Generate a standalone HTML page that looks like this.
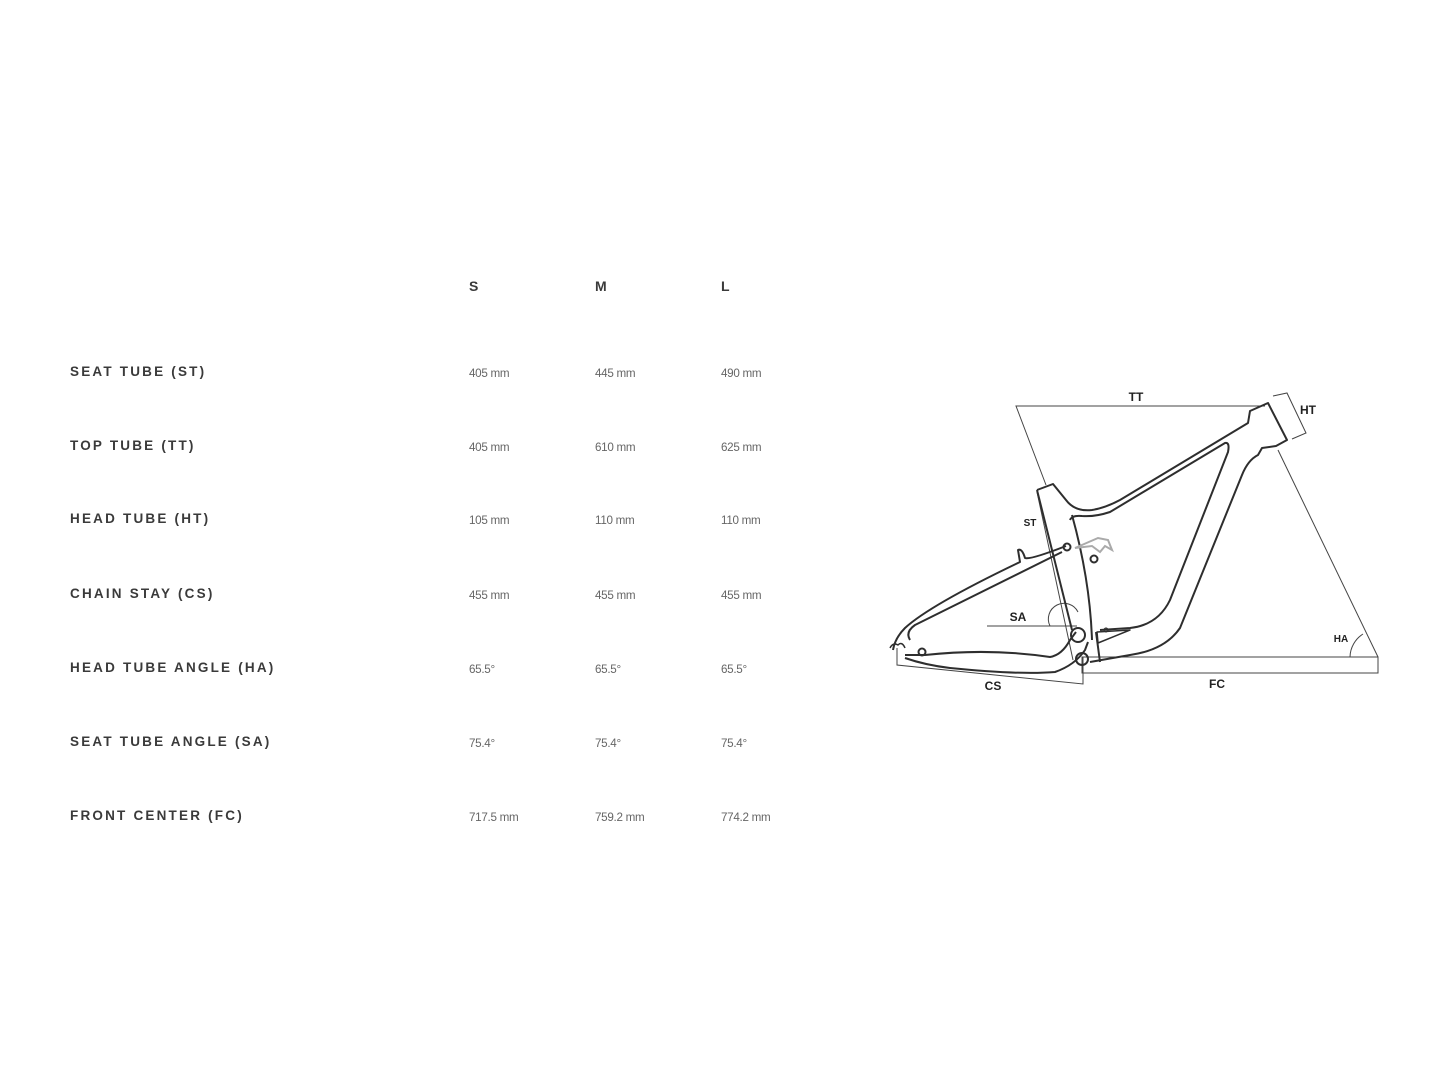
<!DOCTYPE html>
<html><head><meta charset="utf-8"><style>
body{margin:0;width:1440px;height:1080px;background:#fff;position:relative;overflow:hidden;font-family:"Liberation Sans",sans-serif}
.l{position:absolute;left:70px;font-weight:bold;font-size:13.5px;letter-spacing:2.2px;color:#3a3a3a;line-height:16px}
.h{position:absolute;font-weight:bold;font-size:14px;color:#3a3a3a;line-height:16px}
.v{position:absolute;font-size:12px;color:#666;line-height:14px;transform:scaleX(.97);transform-origin:left center;letter-spacing:-.3px}
svg{position:absolute;left:0;top:0}
</style></head><body>
<div class="h" style="left:469px;top:278px">S</div>
<div class="h" style="left:595px;top:278px">M</div>
<div class="h" style="left:721px;top:278px">L</div>

<div class="l" style="top:364px">SEAT TUBE (ST)</div>
<div class="l" style="top:438px">TOP TUBE (TT)</div>
<div class="l" style="top:511px">HEAD TUBE (HT)</div>
<div class="l" style="top:586px">CHAIN STAY (CS)</div>
<div class="l" style="top:660px">HEAD TUBE ANGLE (HA)</div>
<div class="l" style="top:734px">SEAT TUBE ANGLE (SA)</div>
<div class="l" style="top:808px">FRONT CENTER (FC)</div>

<div class="v" style="left:469px;top:366px">405 mm</div><div class="v" style="left:595px;top:366px">445 mm</div><div class="v" style="left:721px;top:366px">490 mm</div>
<div class="v" style="left:469px;top:440px">405 mm</div><div class="v" style="left:595px;top:440px">610 mm</div><div class="v" style="left:721px;top:440px">625 mm</div>
<div class="v" style="left:469px;top:513px">105 mm</div><div class="v" style="left:595px;top:513px">110 mm</div><div class="v" style="left:721px;top:513px">110 mm</div>
<div class="v" style="left:469px;top:588px">455 mm</div><div class="v" style="left:595px;top:588px">455 mm</div><div class="v" style="left:721px;top:588px">455 mm</div>
<div class="v" style="left:469px;top:662px">65.5°</div><div class="v" style="left:595px;top:662px">65.5°</div><div class="v" style="left:721px;top:662px">65.5°</div>
<div class="v" style="left:469px;top:736px">75.4°</div><div class="v" style="left:595px;top:736px">75.4°</div><div class="v" style="left:721px;top:736px">75.4°</div>
<div class="v" style="left:469px;top:810px">717.5 mm</div><div class="v" style="left:595px;top:810px">759.2 mm</div><div class="v" style="left:721px;top:810px">774.2 mm</div>

<svg width="1440" height="1080" viewBox="0 0 1440 1080">
<g fill="none" stroke="#444" stroke-width="1">
<polyline points="1265,406 1016,406 1046,485"/>
<line x1="1037" y1="492" x2="1073" y2="660"/>
<polyline points="1273,396 1287,393 1306,433 1292,439"/>
<line x1="1278" y1="450" x2="1378" y2="657"/>
<rect x="1082" y="657" width="296" height="16"/>
<polyline points="897,648 897,665 1083,684 1083,657"/>
<line x1="987" y1="626" x2="1077" y2="626"/>
<path d="M1050,626 A15,15 0 0 1 1078,612"/>
<path d="M1350,657 A28,28 0 0 1 1363,634"/>
</g>
<g fill="none" stroke="#2e2e2e" stroke-width="2" stroke-linejoin="round">
<path d="M1037,490 L1053,484 L1066,500 Q1075,512 1092,510 Q1105,508 1120,500 L1248,423 L1250,411 L1268,403 L1287,440 L1276,446 L1262,448 L1258,455 Q1248,460 1242,475 L1180,628 Q1165,650 1130,655 L1090,662"/>
<path d="M1070,520 Q1072,515 1082,516 Q1095,517 1110,512 L1225,443 Q1230,442 1228,452 L1170,600 Q1158,625 1130,628 L1100,630"/>
<path d="M1037,490 L1072,630"/>
<path d="M1072,515 Q1090,580 1092,640"/>
<path d="M893,650 Q895,638 905,628 Q930,605 1020,562 L1018,550 Q1022,548 1025,558 Q1030,560 1066,546"/>
<path d="M910,640 Q905,632 915,625 L1062,552"/>
<path d="M905,655 Q915,655 925,655 Q990,648 1050,657 Q1062,655 1070,640 L1076,632"/>
<path d="M905,658 Q925,665 950,668 Q1020,675 1055,672 Q1075,665 1085,650 L1088,642"/>
<path d="M1096,632 L1100,662"/>
<circle cx="1078" cy="635" r="7"/>
<circle cx="1082" cy="659" r="6"/>
<circle cx="922" cy="652" r="3.5"/>
<circle cx="1067" cy="547" r="3.5"/>
<circle cx="1094" cy="559" r="3.5"/>
<path d="M1097,632 L1130,630 L1098,643 Z" stroke-width="1.5"/>
<circle cx="1106" cy="630" r="2" stroke-width="1"/>
<path d="M890,648 Q893,642 898,645 Q902,641 905,648" stroke-width="1.5"/>
</g>
<path d="M1075,548 L1098,538 L1108,540 L1112,550 L1105,546 L1100,552 L1092,546 Z" fill="none" stroke="#aaa" stroke-width="2"/>
<g font-family="'Liberation Sans Narrow','Liberation Sans',sans-serif" font-weight="bold" font-size="12" fill="#222" text-anchor="middle">
<text x="1136" y="401">TT</text>
<text x="1308" y="414">HT</text>
<text x="1030" y="526" font-size="10">ST</text>
<text x="1018" y="621">SA</text>
<text x="1341" y="642" font-size="10">HA</text>
<text x="993" y="690">CS</text>
<text x="1217" y="688">FC</text>
</g>
</svg>
</body></html>
